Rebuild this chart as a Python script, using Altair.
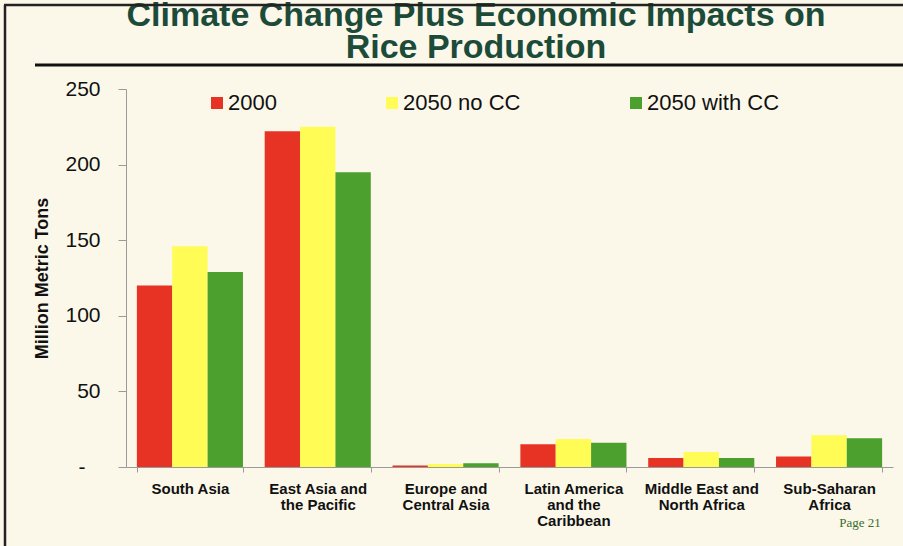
import altair as alt
import pandas as pd

regions = ["South Asia", "East Asia and the Pacific", "Europe and Central Asia",
           "Latin America and the Caribbean", "Middle East and North Africa",
           "Sub-Saharan Africa"]
region_lines = {
    "South Asia": ["South Asia"],
    "East Asia and the Pacific": ["East Asia and", "the Pacific"],
    "Europe and Central Asia": ["Europe and", "Central Asia"],
    "Latin America and the Caribbean": ["Latin America", "and the", "Caribbean"],
    "Middle East and North Africa": ["Middle East and", "North Africa"],
    "Sub-Saharan Africa": ["Sub-Saharan", "Africa"],
}
series = ["2000", "2050 no CC", "2050 with CC"]
values_2000 = [120, 222, 1, 15, 6, 7]
values_2050_no_cc = [146, 225, 2, 18.5, 10, 21]
values_2050_with_cc = [129, 195, 2.5, 16, 6, 19]
colors = ["#E63323", "#FFFC55", "#4BA02E"]
y_ticks = [0, 50, 100, 150, 200, 250]
title_lines = ["Climate Change Plus Economic Impacts on", "Rice Production"]

rows = []
for s, vals in zip(series, [values_2000, values_2050_no_cc, values_2050_with_cc]):
    for r, v in zip(regions, vals):
        rows.append({"region": r, "series": s, "value": v})
df = pd.DataFrame(rows)

label_expr = " : ".join(
    [f"datum.label == '{k}' ? {v!r}" for k, v in region_lines.items()]
) + " : datum.label"

W, H = 767, 378
PL, PT = 126, 89
BG = "#FBF8EA"

bars = alt.Chart(df).mark_bar().encode(
    x=alt.X("region:N", sort=regions, title=None,
            scale=alt.Scale(paddingInner=0.17, paddingOuter=0.085),
            axis=alt.Axis(tickBand="extent", domainColor="#9a9a9a", tickColor="#9a9a9a",
                          tickSize=5, labelAngle=0, labelFontSize=15, labelFontWeight="bold",
                          labelFont="Liberation Sans", labelColor="#111111", labelPadding=9,
                          labelLineHeight=16, labelLimit=200, labelExpr=label_expr)),
    xOffset=alt.XOffset("series:N", sort=series, scale=alt.Scale(paddingInner=0, paddingOuter=0)),
    y=alt.Y("value:Q", title="Million Metric Tons",
            scale=alt.Scale(domain=[0, 250], nice=False),
            axis=alt.Axis(values=y_ticks, grid=False, domainColor="#9a9a9a", tickColor="#9a9a9a",
                          tickSize=8, labelPadding=18,
                          labelFontSize=21, labelFont="Liberation Sans",
                          labelColor="#111111",
                          labelExpr="datum.value == 0 ? '-\u2800' : datum.label",
                          titleFont="Liberation Sans",
                          titleFontSize=18, titleFontWeight="bold", titleColor="#111111",
                          titlePadding=13)),
    color=alt.Color("series:N", sort=series,
                    scale=alt.Scale(domain=series, range=colors),
                    legend=alt.Legend(orient="none", legendX=80, legendY=3, direction="horizontal",
                                      title=None, symbolType="square", symbolSize=144,
                                      symbolStrokeWidth=0, symbolOpacity=1, labelFontSize=22,
                                      labelFont="Liberation Sans", labelColor="#111111",
                                      columnPadding=104, labelOffset=0, labelLimit=300)),
)

# decorative frame, title text and rule under title
frame_top = alt.Chart().mark_rule(color="#222222", strokeWidth=2.5).encode(
    x=alt.value(4 - PL), x2=alt.value(903 - PL), y=alt.value(5 - PT))
frame_left = alt.Chart().mark_rule(color="#222222", strokeWidth=2.5).encode(
    x=alt.value(5 - PL), y=alt.value(5 - PT), y2=alt.value(546 - PT))
title_rule = alt.Chart().mark_rule(color="#111111", strokeWidth=3).encode(
    x=alt.value(35 - PL), x2=alt.value(903 - PL), y=alt.value(65 - PT))
title = alt.Chart().mark_text(text=title_lines, font="Liberation Sans", fontSize=34,
                              fontWeight="bold", color="#1C4B3A", align="center",
                              baseline="alphabetic", lineHeight=32).encode(
    x=alt.value(476 - PL), y=alt.value(26 - PT))
page = alt.Chart().mark_text(text="Page 21", font="Liberation Serif", fontSize=13,
                             color="#3A6B2E").encode(
    x=alt.value(860 - PL), y=alt.value(523 - PT))

chart = alt.layer(bars, frame_left, title, frame_top, title_rule, page).properties(
    width=W, height=H,
    padding={"left": PL, "top": PT, "right": 903 - PL - W, "bottom": 546 - PT - H},
    autosize=alt.AutoSizeParams(type="none"),
    background=BG,
).configure_view(stroke=None)

chart.save("out.html", embed_options={"renderer": "svg", "actions": False})
